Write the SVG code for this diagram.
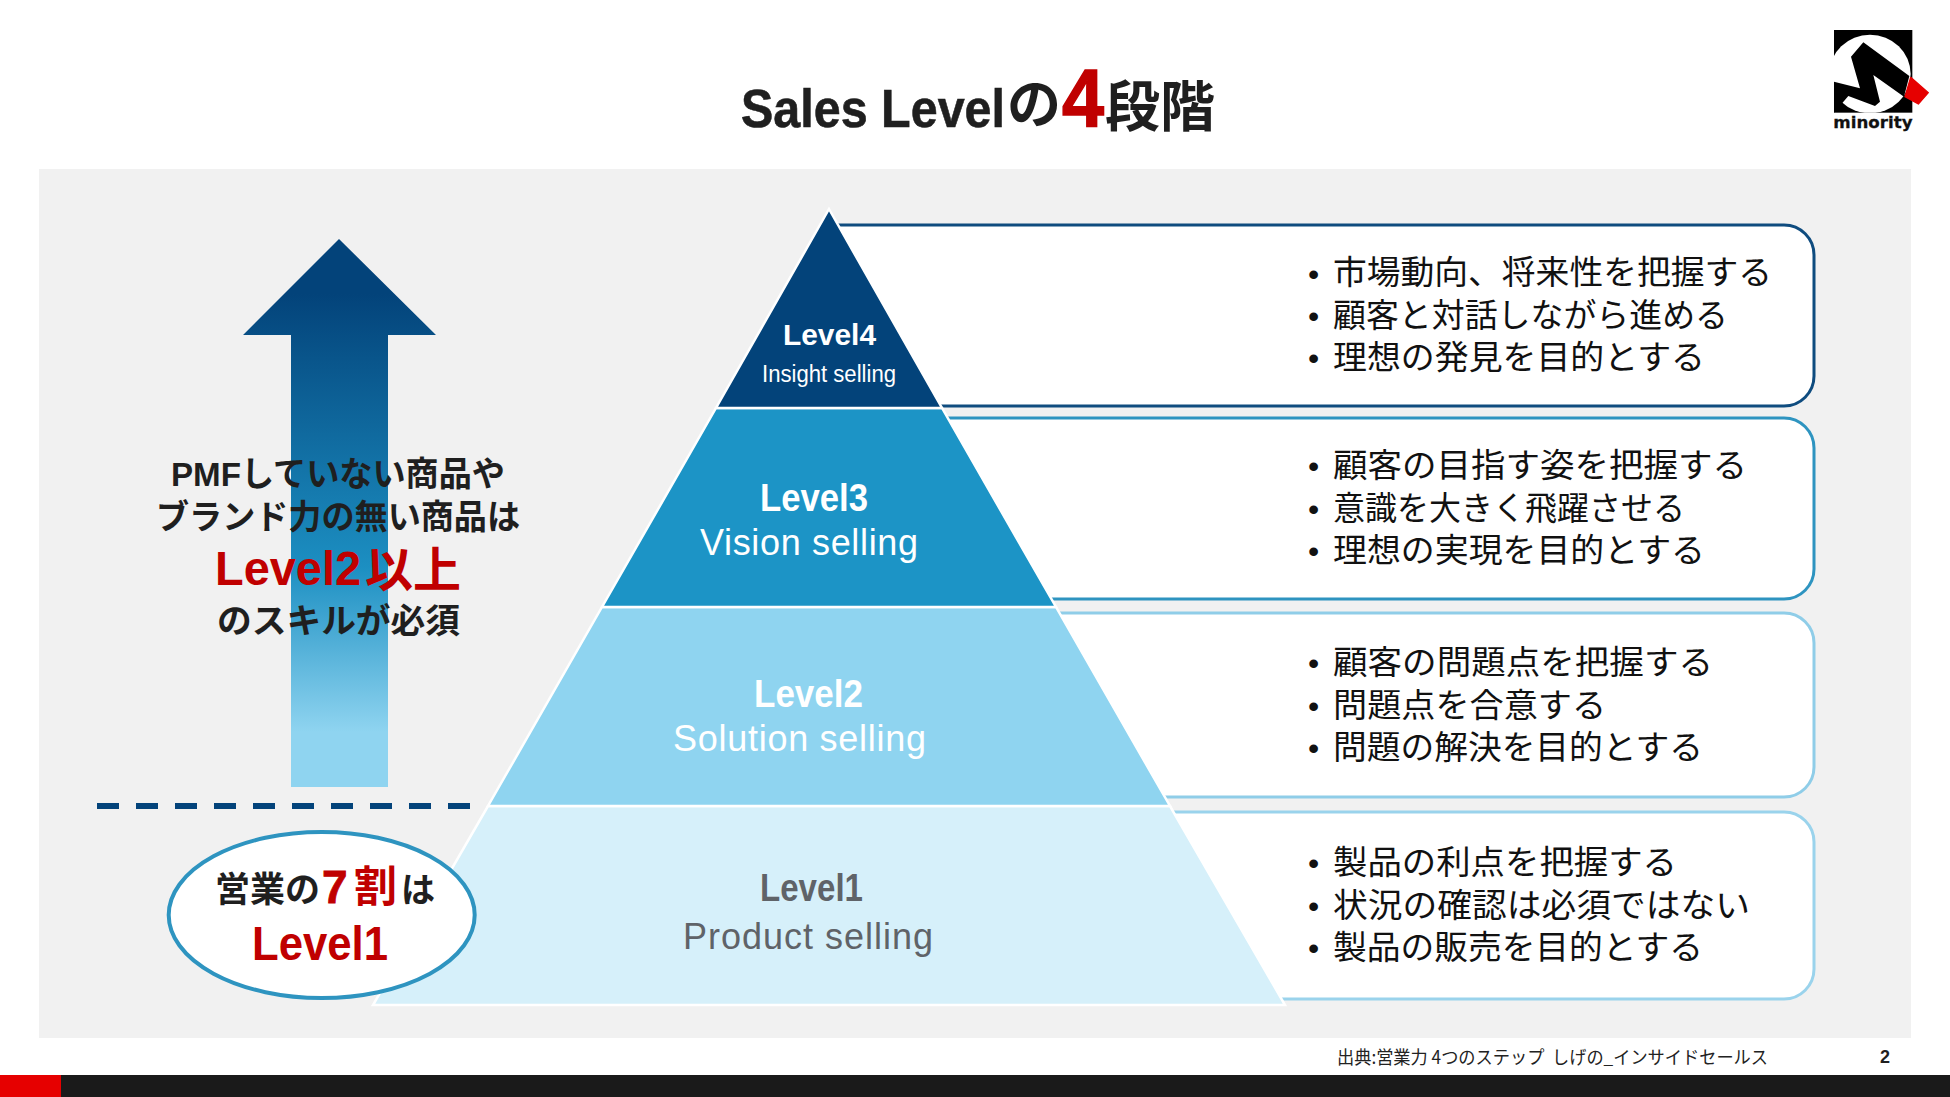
<svg xmlns="http://www.w3.org/2000/svg" width="1950" height="1097" viewBox="0 0 1950 1097">
<style>
text{font-family:"Liberation Sans","Noto Sans CJK JP",sans-serif}
.jp{font-family:"Noto Sans CJK JP","Liberation Sans",sans-serif}
.b{font-weight:700}
.dk{fill:#1f1f1f}
.red{fill:#c00000}
.w{fill:#fff}
.li{font-family:"Noto Sans CJK JP",sans-serif;font-size:33px;fill:#111}
.bu{font-family:"Liberation Sans",sans-serif;font-size:32px;fill:#111}
.box{fill:#fff;stroke-width:3}
.py{stroke:#fff;stroke-width:2.5}
.h{font-weight:700;font-size:38px}
.s{font-weight:400;font-size:36px}
</style>
<defs>
<linearGradient id="ag" gradientUnits="userSpaceOnUse" x1="0" y1="239" x2="0" y2="787">
<stop offset="0.1" stop-color="#03437A"/><stop offset="0.6" stop-color="#1C8FC2"/><stop offset="0.9" stop-color="#8FD4F0"/>
</linearGradient>
<clipPath id="lc"><rect x="162" y="90" width="235" height="248"/></clipPath>
</defs>
<rect width="1950" height="1097" fill="#fff"/>
<rect id="panel" x="39" y="169" width="1872" height="869" fill="#f1f1f1"/>
<g id="title">
<text class="b dk" x="741" y="127" font-size="54" stroke="#1f1f1f" stroke-width=".6" textLength="264" lengthAdjust="spacingAndGlyphs">Sales Level</text>
<text class="b dk" x="1007" y="124" font-size="54">の</text>
<text class="b red" x="1062" y="126" font-size="82" stroke="#c00000" stroke-width="1.5" textLength="42" lengthAdjust="spacingAndGlyphs">4</text>
<text class="b dk" x="1105" y="126" font-size="55">段階</text>
</g>
<g id="logo" transform="translate(1780 0) scale(.33333)">
<rect x="162" y="90" width="235" height="248" fill="#000"/>
<ellipse cx="270" cy="222" rx="122" ry="118" fill="#fff" clip-path="url(#lc)"/>
<path d="M162 245L240 265 213 170 250 127 388 228 372 290 280 225 300 305 285 318 205 288 162 338Z" fill="#000"/>
<path d="M392 232L445 278 415 312 375 290Z" fill="#e60000" stroke="#e60000" stroke-width="4" stroke-linejoin="round"/>
<text x="160" y="383" font-size="49" font-weight="700" fill="#111" stroke="#111" stroke-width=".8" style="font-family:'DejaVu Sans',sans-serif" textLength="238" lengthAdjust="spacingAndGlyphs">minority</text>
</g>
<g id="box4"><path class="box" stroke="#9AD3EC" d="M1100 812H1784a30 30 0 0 1 30 30V969a30 30 0 0 1-30 30H1100Z"/>
<text class="bu" x="1308" y="874">•</text><text class="li" x="1333" y="874" textLength="344" lengthAdjust="spacingAndGlyphs">製品の利点を把握する</text>
<text class="bu" x="1308" y="917">•</text><text class="li" x="1333" y="917" textLength="417" lengthAdjust="spacingAndGlyphs">状況の確認は必須ではない</text>
<text class="bu" x="1308" y="959">•</text><text class="li" x="1333" y="959" textLength="370" lengthAdjust="spacingAndGlyphs">製品の販売を目的とする</text></g>
<g id="box3"><path class="box" stroke="#8FCDE8" d="M1000 613H1784a30 30 0 0 1 30 30V767a30 30 0 0 1-30 30H1000Z"/>
<text class="bu" x="1308" y="674">•</text><text class="li" x="1333" y="674" textLength="380" lengthAdjust="spacingAndGlyphs">顧客の問題点を把握する</text>
<text class="bu" x="1308" y="717">•</text><text class="li" x="1333" y="717" textLength="273" lengthAdjust="spacingAndGlyphs">問題点を合意する</text>
<text class="bu" x="1308" y="759">•</text><text class="li" x="1333" y="759" textLength="370" lengthAdjust="spacingAndGlyphs">問題の解決を目的とする</text></g>
<g id="box2"><path class="box" stroke="#2E94C0" d="M900 418H1784a30 30 0 0 1 30 30V569a30 30 0 0 1-30 30H900Z"/>
<text class="bu" x="1308" y="477">•</text><text class="li" x="1333" y="477" textLength="414" lengthAdjust="spacingAndGlyphs">顧客の目指す姿を把握する</text>
<text class="bu" x="1308" y="520">•</text><text class="li" x="1333" y="520" textLength="352" lengthAdjust="spacingAndGlyphs">意識を大きく飛躍させる</text>
<text class="bu" x="1308" y="562">•</text><text class="li" x="1333" y="562" textLength="372" lengthAdjust="spacingAndGlyphs">理想の実現を目的とする</text></g>
<g id="box1"><path class="box" stroke="#0F4C7F" d="M830 225H1784a30 30 0 0 1 30 30V376a30 30 0 0 1-30 30H830Z"/>
<text class="bu" x="1308" y="285">•</text><text class="li" x="1333" y="284" textLength="439" lengthAdjust="spacingAndGlyphs">市場動向、将来性を把握する</text>
<text class="bu" x="1308" y="327">•</text><text class="li" x="1333" y="327" textLength="395" lengthAdjust="spacingAndGlyphs">顧客と対話しながら進める</text>
<text class="bu" x="1308" y="369">•</text><text class="li" x="1333" y="369" textLength="372" lengthAdjust="spacingAndGlyphs">理想の発見を目的とする</text></g>
<g id="level1"><path class="py" fill="#D6F0FA" d="M488 806H1170L1285 1005H373Z"/>
<text class="h" x="760" y="901" fill="#5f6368" textLength="103" lengthAdjust="spacingAndGlyphs">Level1</text>
<text class="s" x="683" y="949" fill="#5f6368" textLength="250">Product selling</text></g>
<g id="level2"><path class="py" fill="#8FD4F0" d="M602 607H1056L1170 806H488Z"/>
<text class="h w" x="754" y="707" textLength="109" lengthAdjust="spacingAndGlyphs">Level2</text>
<text class="s w" x="673" y="751" textLength="253">Solution selling</text></g>
<g id="level3"><path class="py" fill="#1C94C6" d="M716 408H942L1056 607H602Z"/>
<text class="h w" x="760" y="511" textLength="108" lengthAdjust="spacingAndGlyphs">Level3</text>
<text class="s w" x="700" y="555" textLength="218">Vision selling</text></g>
<g id="level4"><path class="py" fill="#03437A" d="M829 209L942 408H716Z"/>
<text class="b w" x="783" y="345" font-size="30" textLength="93" lengthAdjust="spacingAndGlyphs">Level4</text>
<text class="w" x="762" y="382" font-size="23" textLength="134" lengthAdjust="spacingAndGlyphs">Insight selling</text></g>
<g id="arrow"><path fill="url(#ag)" d="M339 239L436 335H388V787H291V335H243Z"/></g>
<g id="connectors"><path d="M97 806H471" fill="none" stroke="#03437A" stroke-width="6" stroke-dasharray="22 17"/></g>
<g id="callout">
<text class="b dk" x="171" y="486" font-size="34" textLength="334" lengthAdjust="spacingAndGlyphs">PMFしていない商品や</text>
<text class="b dk" x="156" y="529" font-size="34" textLength="364" lengthAdjust="spacingAndGlyphs">ブランド力の無い商品は</text>
<text class="b red" x="215" y="585" font-size="49" textLength="146" lengthAdjust="spacingAndGlyphs">Level2</text>
<text class="b red" x="365" y="587" font-size="48">以上</text>
<text class="b dk" x="217" y="633" font-size="34" textLength="243" lengthAdjust="spacingAndGlyphs">のスキルが必須</text>
</g>
<g id="ellipse"><ellipse cx="321.7" cy="915" rx="153" ry="83" fill="#fff" stroke="#2E94C0" stroke-width="4"/>
<text class="b dk" x="215" y="902" font-size="35">営業の</text>
<text class="b red" x="322" y="903" font-size="46" stroke="#c00000" stroke-width=".8">7</text>
<text class="b red" x="354" y="902" font-size="43">割</text>
<text class="b dk" x="401" y="902" font-size="34">は</text>
<text class="b red" x="252" y="960" font-size="49" textLength="136" lengthAdjust="spacingAndGlyphs">Level1</text>
</g>
<text id="source" class="jp" x="1337" y="1064" font-size="18" fill="#222" style="white-space:pre" textLength="431" lengthAdjust="spacingAndGlyphs">出典:営業力 4つのステップ  しげの_インサイドセールス</text>
<text id="page" class="b dk" x="1880" y="1063" font-size="18">2</text>
<g id="footer"><rect y="1075" width="1950" height="22" fill="#1a1a1a"/><rect y="1075" width="61" height="22" fill="#e60000"/></g>
</svg>
